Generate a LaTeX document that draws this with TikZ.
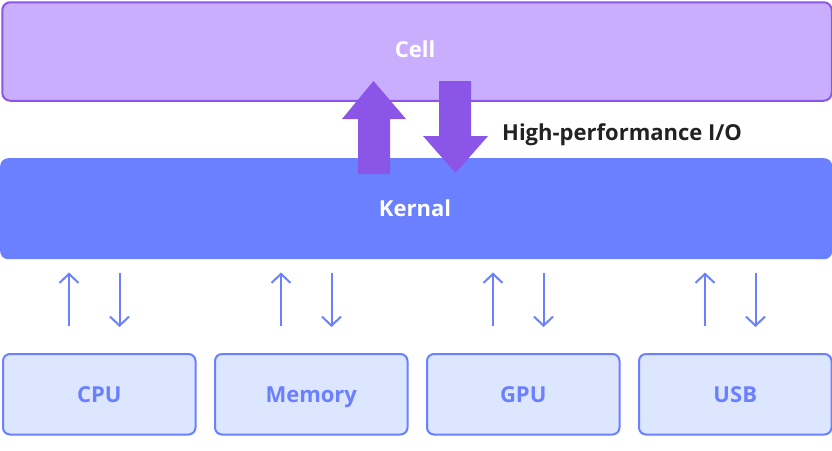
\documentclass[tikz,border=0pt]{standalone}
\usepackage{fontspec}
\setmainfont{Open Sans}
\usetikzlibrary{arrows.meta}
\definecolor{cellfill}{HTML}{C9AEFE}
\definecolor{cellline}{HTML}{8B55E8}
\definecolor{bigarrow}{HTML}{8B55E8}
\definecolor{kern}{HTML}{6A80FF}
\definecolor{devfill}{HTML}{DDE6FF}
\definecolor{txtdark}{HTML}{222222}
\tikzset{
  lbl/.style={font=\fontsize{22}{26}\selectfont\bfseries, inner sep=0pt,
    text height=15.7pt, text depth=0pt},
  devbox/.style={draw=kern, line width=2pt, fill=devfill, rounded corners=7pt,
    minimum width=192.5pt, minimum height=80.5pt, inner sep=0pt, anchor=north west,
    text=kern, lbl},
  smallarrow/.style={draw=kern, line width=2pt,
    -{Straight Barb[length=9pt,width=19pt,line width=2pt]}},
  bigarr/.style={fill=bigarrow, draw=none},
}
\begin{document}
\begin{tikzpicture}[x=1pt,y=-1pt]
\useasboundingbox (0,0) rectangle (832,450);
% Cell
\node[draw=cellline, line width=2pt, fill=cellfill, rounded corners=8pt,
  minimum width=829.5pt, minimum height=98.5pt, anchor=north west, inner sep=0pt] (cell) at (1.25,1.25) {};
\node[lbl, text=white] (celltext) at (415,50) {Cell};
% Kernal
\node[fill=kern, rounded corners=8pt, minimum width=832pt, minimum height=101pt,
  anchor=north west, inner sep=0pt] (kernal) at (0,158) {};
\node[lbl, text=white] (kerntext) at (415,209) {Kernal};
% big arrows
\fill[bigarr] (358,174) -- (358,119) -- (342,119) -- (373.5,81) -- (406,119) -- (390,119) -- (390,174) -- cycle;
\fill[bigarr] (439,81) -- (471,81) -- (471,136) -- (488,136) -- (455.5,173) -- (423,136) -- (439,136) -- cycle;
\node[lbl, text=txtdark, anchor=base west, text height=, text depth=] (hpio) at (502,140.5) {High-performance I/O};
% devices
\node[devbox] (cpu) at (2,353) {CPU};
\node[devbox] (mem) at (214,353) {Memory};
\node[devbox] (gpu) at (426,353) {GPU};
\node[devbox] (usb) at (638,353) {USB};
\foreach \b/\c in {cpu/98, mem/310, gpu/522, usb/734}{
  \coordinate (\b-ut) at (\c-29,326);
  \coordinate (\b-uh) at (\c-29,272.5);
  \coordinate (\b-dt) at (\c+21.5,272.5);
  \coordinate (\b-dh) at (\c+21.5,327);
  \draw[smallarrow] (\b-ut) -- (\b-uh);
  \draw[smallarrow] (\b-dt) -- (\b-dh);
}
\end{tikzpicture}
\end{document}
